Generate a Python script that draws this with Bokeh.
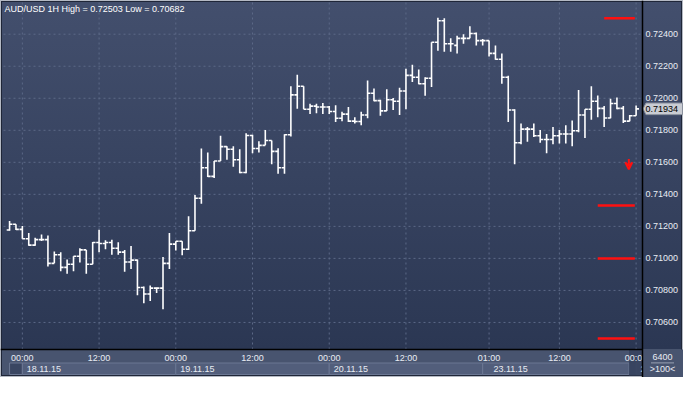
from bokeh.plotting import figure
from bokeh.models import Range1d, ColumnDataSource, Arrow, VeeHead
from bokeh.core.properties import value
from bokeh.embed import file_html
from bokeh.resources import INLINE

# ---------------- data ----------------
title_text = "AUD/USD 1H High = 0.72503 Low = 0.70682"
bar_index = list(range(-2, 97))
opens = [0.71177, 0.71213, 0.71181, 0.71123, 0.71083, 0.71117, 0.71117, 0.70969, 0.71023, 0.70944,
         0.70963, 0.71013, 0.71053, 0.70963, 0.71099, 0.71093, 0.71099, 0.71063, 0.71039, 0.70977,
         0.70989, 0.70818, 0.70778, 0.70814, 0.70814, 0.70969, 0.71089, 0.71107, 0.71057, 0.71173,
         0.71376, 0.71566, 0.71512, 0.71608, 0.71698, 0.71682, 0.71616, 0.71536, 0.71767, 0.71686,
         0.71706, 0.71736, 0.71668, 0.71566, 0.71772, 0.72021, 0.72075, 0.71931, 0.71951, 0.71945,
         0.71945, 0.71917, 0.71875, 0.71901, 0.71857, 0.71855, 0.71895, 0.72031, 0.71985, 0.71921,
         0.71991, 0.71981, 0.72045, 0.72143, 0.72131, 0.72091, 0.72125, 0.72350, 0.72484, 0.72340,
         0.72330, 0.72374, 0.72374, 0.72404, 0.72360, 0.72360, 0.72280, 0.72244, 0.72131, 0.71927,
         0.71722, 0.71807, 0.71807, 0.71766, 0.71742, 0.71742, 0.71766, 0.71777, 0.71777, 0.71797,
         0.71895, 0.71931, 0.71981, 0.71937, 0.71877, 0.71967, 0.71937, 0.71857, 0.71891]
highs = [0.71233, 0.71213, 0.71203, 0.71159, 0.71129, 0.71149, 0.71143, 0.71043, 0.71039, 0.70993,
         0.71013, 0.71063, 0.71053, 0.71103, 0.71179, 0.71113, 0.71117, 0.71101, 0.71053, 0.71077,
         0.70993, 0.70824, 0.70830, 0.70818, 0.71009, 0.71159, 0.71107, 0.71107, 0.71263, 0.71396,
         0.71686, 0.71662, 0.71608, 0.71766, 0.71701, 0.71701, 0.71682, 0.71782, 0.71772, 0.71731,
         0.71801, 0.71736, 0.71688, 0.71776, 0.72075, 0.72147, 0.72075, 0.71965, 0.71965, 0.71971,
         0.71951, 0.71957, 0.71915, 0.71945, 0.71881, 0.71915, 0.72111, 0.72061, 0.71991, 0.72057,
         0.72001, 0.72065, 0.72185, 0.72210, 0.72180, 0.72131, 0.72350, 0.72503, 0.72500, 0.72374,
         0.72390, 0.72400, 0.72450, 0.72410, 0.72370, 0.72360, 0.72330, 0.72280, 0.72141, 0.71931,
         0.71842, 0.71821, 0.71842, 0.71801, 0.71777, 0.71821, 0.71801, 0.71831, 0.71861, 0.72051,
         0.71931, 0.72075, 0.72017, 0.71951, 0.71997, 0.72005, 0.71951, 0.71895, 0.71955]
lows = [0.71173, 0.71177, 0.71123, 0.71079, 0.71079, 0.71109, 0.70950, 0.70969, 0.70920, 0.70904,
        0.70920, 0.70974, 0.70904, 0.70963, 0.71039, 0.71057, 0.71023, 0.71023, 0.70917, 0.70933,
        0.70770, 0.70720, 0.70734, 0.70784, 0.70682, 0.70933, 0.71049, 0.71019, 0.71053, 0.71173,
        0.71341, 0.71508, 0.71502, 0.71608, 0.71616, 0.71572, 0.71532, 0.71532, 0.71656, 0.71662,
        0.71706, 0.71588, 0.71528, 0.71528, 0.71761, 0.71935, 0.71931, 0.71901, 0.71907, 0.71901,
        0.71901, 0.71851, 0.71857, 0.71851, 0.71842, 0.71831, 0.71875, 0.71981, 0.71891, 0.71921,
        0.71927, 0.71895, 0.71931, 0.72101, 0.72087, 0.72015, 0.72071, 0.72296, 0.72290, 0.72290,
        0.72280, 0.72340, 0.72374, 0.72330, 0.72330, 0.72261, 0.72240, 0.72091, 0.71851, 0.71588,
        0.71712, 0.71728, 0.71758, 0.71722, 0.71656, 0.71712, 0.71718, 0.71718, 0.71701, 0.71788,
        0.71752, 0.71865, 0.71881, 0.71821, 0.71875, 0.71931, 0.71845, 0.71857, 0.71891]
closes = [0.71213, 0.71181, 0.71123, 0.71083, 0.71117, 0.71117, 0.70969, 0.71023, 0.70944, 0.70963,
          0.71013, 0.71053, 0.70963, 0.71099, 0.71093, 0.71099, 0.71063, 0.71039, 0.70977, 0.70989,
          0.70818, 0.70778, 0.70814, 0.70814, 0.70969, 0.71089, 0.71107, 0.71057, 0.71173, 0.71376,
          0.71566, 0.71512, 0.71608, 0.71698, 0.71682, 0.71616, 0.71536, 0.71767, 0.71686, 0.71706,
          0.71736, 0.71668, 0.71566, 0.71772, 0.72021, 0.72075, 0.71931, 0.71951, 0.71945, 0.71945,
          0.71917, 0.71875, 0.71901, 0.71857, 0.71855, 0.71895, 0.72031, 0.71985, 0.71921, 0.71991,
          0.71981, 0.72045, 0.72143, 0.72131, 0.72091, 0.72125, 0.72350, 0.72484, 0.72340, 0.72340,
          0.72374, 0.72374, 0.72404, 0.72360, 0.72360, 0.72280, 0.72244, 0.72131, 0.71927, 0.71722,
          0.71807, 0.71807, 0.71766, 0.71742, 0.71742, 0.71766, 0.71777, 0.71777, 0.71797, 0.71895,
          0.71931, 0.71981, 0.71937, 0.71877, 0.71967, 0.71937, 0.71857, 0.71891, 0.71934]

time_ticks = [0, 12, 24, 36, 48, 60, 73, 84, 96]
time_labels = ["00:00", "12:00", "00:00", "12:00", "00:00", "12:00", "01:00", "12:00", "00:00"]
date_box_start = [-2, 0, 24, 48, 72, 96]
date_box_end = [0, 24, 48, 72, 94.9, 103]
date_text_at = [0, 24, 48, 73, 96]
date_labels = ["18.11.15", "19.11.15", "20.11.15", "23.11.15", "24.11.15"]
price_ticks = [0.706, 0.708, 0.710, 0.712, 0.714, 0.716, 0.718, 0.720, 0.722, 0.724]
level_prices = [0.72500, 0.71330, 0.71000, 0.70500]
level_starts = [91, 90, 90, 90]
level_end = 95.8
last_price = 0.71934
arrow_bar = 94.86
arrow_from, arrow_to = 0.71620, 0.71556
volume_text = ["6400", ">100<"]

# ---------------- scales / layout ----------------
W, H = 683, 377
PLOT_L, PLOT_R, PLOT_T, PLOT_B = 3, 642, 2, 349      # canvas pixels of the price pane
X_FIRST, X_LAST = -2.95, 97.0                        # bar-index range of the price pane
Y_BOT, Y_TOP = 0.70431, 0.72598                      # price range of the price pane
px_x = (X_LAST - X_FIRST) / (PLOT_R - PLOT_L)
px_y = (Y_TOP - Y_BOT) / (PLOT_B - PLOT_T)


def right_of_pane(px):
    return X_LAST + px * px_x


def below_pane(px):
    return Y_BOT - px * px_y


FONT = value("Liberation Sans")
FS = value("9px")
TXT = "#e8ecf3"

p = figure(width=W, height=H, output_backend="svg", toolbar_location=None,
           x_range=Range1d(X_FIRST - PLOT_L * px_x, X_LAST + (W - PLOT_R) * px_x),
           y_range=Range1d(Y_BOT - (H - PLOT_B) * px_y, Y_TOP + PLOT_T * px_y),
           x_axis_location=None, y_axis_location=None,
           min_border=0, min_border_left=0, min_border_right=0, min_border_top=0, min_border_bottom=0)
p.grid.visible = False
p.border_fill_color = None
p.background_fill_color = None
p.outline_line_color = None
p.styles = {
    "background": (f"linear-gradient(to bottom, #434f6d 0px, #2b3753 {PLOT_B}px, "
                   f"#48546f {PLOT_B}px, #48546f {H}px)"),
    "box-shadow": "inset 0 0 0 1px #b4b9c3, inset 0 0 0 2px #1f2638",
}

# grid
p.segment(x0=[X_FIRST] * len(price_ticks), x1=[X_LAST] * len(price_ticks), y0=price_ticks, y1=price_ticks,
          line_color="#5c6987", line_dash="2 3", line_width=1)
p.segment(x0=time_ticks, x1=time_ticks, y0=[Y_BOT] * len(time_ticks), y1=[Y_TOP] * len(time_ticks),
          line_color="#5c6987", line_dash="2 3", line_width=1)

# OHLC bars
tick = 0.45
src = ColumnDataSource(dict(
    x=bar_index, o=opens, h=highs, l=lows, c=closes,
    xl=[i - tick for i in bar_index], xr=[i + tick for i in bar_index]))
style = dict(line_color="#ffffff", line_width=1.6)
p.segment(x0="x", y0="l", x1="x", y1="h", source=src, **style)
p.segment(x0="xl", y0="o", x1="x", y1="o", source=src, **style)
p.segment(x0="x", y0="c", x1="xr", y1="c", source=src, **style)

# red levels
p.segment(x0=level_starts, y0=level_prices, x1=[level_end] * len(level_prices), y1=level_prices,
          line_color="#ff1010", line_width=2.5)

# red arrow
p.add_layout(Arrow(x_start=arrow_bar, y_start=arrow_from, x_end=arrow_bar, y_end=arrow_to,
                   line_color="#ff1010", line_width=2,
                   end=VeeHead(size=7, line_color="#ff1010", line_width=2, fill_color=None)))

# title
p.text(x=[X_FIRST + 1 * px_x], y=[Y_TOP - 6 * px_y], text=[title_text], text_font=FONT,
       text_font_size=FS, text_color="#ffffff", text_align="left", text_baseline="middle")

# ---- price scale (right) ----
p.text(x=[right_of_pane(3)] * len(price_ticks), y=price_ticks, text=[f"{t:.5f}" for t in price_ticks],
       text_font=FONT, text_font_size=FS, text_color=TXT, text_align="left", text_baseline="middle")
tag_h = 5.8 * px_y
p.patch(x=[right_of_pane(0.5), right_of_pane(3.5), right_of_pane(40), right_of_pane(40), right_of_pane(3.5)],
        y=[last_price, last_price + tag_h, last_price + tag_h, last_price - tag_h, last_price - tag_h],
        fill_color="#c9ccd3", line_color="#8a909d", line_width=1)
p.text(x=[right_of_pane(3)], y=[last_price], text=[f"{last_price:.5f}"], text_font=FONT,
       text_font_size=FS, text_color="#000000", text_align="left", text_baseline="middle")

# ---- time scale (bottom) ----
p.quad(left=date_box_start, right=date_box_end, top=[below_pane(13.5)] * len(date_box_start),
       bottom=[below_pane(25)] * len(date_box_start),
       fill_color=["#3a4662"] + ["#525e7b"] * (len(date_box_start) - 1), line_color="#6b7793", line_width=1)
p.quad(left=[94.9], right=[X_LAST], top=[Y_BOT], bottom=[below_pane(26)],
       fill_color="#36425e", line_color=None, fill_alpha=0.9)
p.text(x=time_ticks, y=[below_pane(8.7)] * len(time_ticks), text=time_labels, text_font=FONT,
       text_font_size=FS, text_color=TXT, text_align="center", text_baseline="middle")
p.text(x=[d + 4.4 * px_x for d in date_text_at], y=[below_pane(19.3)] * len(date_text_at), text=date_labels,
       text_font=FONT, text_font_size=FS, text_color=TXT, text_align="left", text_baseline="middle")

# right-bottom corner panel
p.quad(left=[X_LAST], right=[right_of_pane(W - PLOT_R)], top=[Y_BOT], bottom=[below_pane(H - PLOT_B)],
       fill_color="#48546f", line_color=None)
p.text(x=[right_of_pane(20)] * 2, y=[below_pane(7.7), below_pane(19.3)], text=volume_text, text_font=FONT,
       text_font_size=FS, text_color=TXT, text_align="center", text_baseline="middle")
p.segment(x0=[right_of_pane(8.5)], x1=[right_of_pane(31.5)], y0=[below_pane(13.4)], y1=[below_pane(13.4)],
          line_color="#9aa2b3", line_width=1)

# pane borders
p.segment(x0=[X_LAST], x1=[X_LAST], y0=[below_pane(H - PLOT_B)], y1=[Y_TOP + PLOT_T * px_y],
          line_color="#000000", line_width=1.5)
p.segment(x0=[X_FIRST - PLOT_L * px_x], x1=[X_LAST], y0=[Y_BOT], y1=[Y_BOT],
          line_color="#000000", line_width=1.5)

open("out.html", "w").write(file_html(p, INLINE))
